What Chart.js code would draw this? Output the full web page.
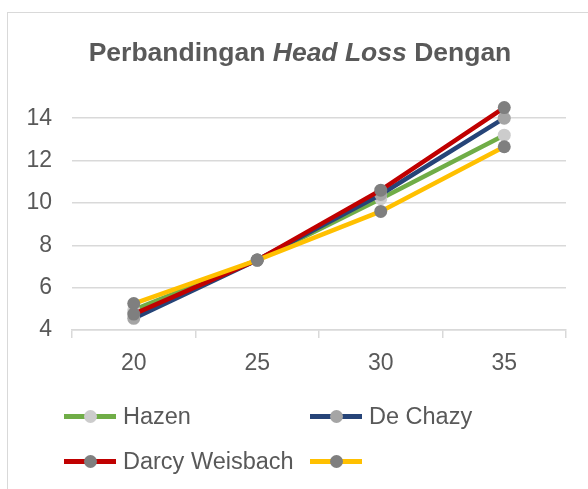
<!DOCTYPE html>
<html>
<head>
<meta charset="utf-8">
<script src="https://cdn.jsdelivr.net/npm/chart.js@4.4.0/dist/chart.umd.min.js"></script>
<style>
  body { margin: 0; background: #fff; font-family: "Liberation Sans", Arial, sans-serif; }
  #wrap { position: relative; width: 588px; height: 489px; overflow: hidden; }
  #frame { position: absolute; left: 7px; top: 12px; width: 700px; height: 600px; border: 1px solid #d9d9d9; }
  #title { position: absolute; left: 0; top: 36px; width: 600px; text-align: center;
           font-weight: bold; font-size: 26.5px; line-height: 32px; color: #595959; }
  #chart { position: absolute; left: 0; top: 0; }
  .item { position: absolute; height: 30px; display: flex; align-items: center;
          font-size: 23.5px; color: #595959; white-space: nowrap; }
  .swatch { position: relative; width: 52px; height: 13px; margin-right: 7px; }
  .swatch .ln { position: absolute; left: 0; right: 0; top: 4px; height: 5px; }
  .swatch .dot { position: absolute; left: 19.5px; top: 0; width: 13px; height: 13px; border-radius: 50%; }
</style>
</head>
<body>
<div id="wrap">
  <div id="frame"></div>
  <canvas id="chart" width="588" height="489"></canvas>
  <div id="title">Perbandingan <i>Head Loss</i> Dengan</div>
  <div id="legend"></div>
</div>
<script>
const labels = ['20', '25', '30', '35'];
const names = ['Hazen', 'De Chazy', 'Darcy Weisbach', ''];
const hazen = [4.95, 7.3, 10.2, 13.2];
const deChazy = [4.55, 7.3, 10.4, 14.0];
const darcy = [4.75, 7.3, 10.6, 14.5];
const keempat = [5.25, 7.3, 9.6, 12.65];
const yTicks = [4, 6, 8, 10, 12, 14];

const lineColors = ['#70ad47', '#264478', '#c00000', '#ffc000'];
const dotColors = ['#cccccc', '#a5a5a5', '#7f7f7f', '#7f7f7f'];
const series = [hazen, deChazy, darcy, keempat];

const datasets = series.map(function (vals, i) {
    return {
        label: names[i],
        data: vals,
        borderColor: lineColors[i],
        backgroundColor: dotColors[i],
        pointBackgroundColor: dotColors[i],
        pointBorderColor: dotColors[i],
        borderWidth: 4.5,
        pointRadius: 6.5,
        pointBorderWidth: 0,
        tension: 0,
        order: 4 - i
    };
});

const grid = '#d9d9d9';

const chart = new Chart(document.getElementById('chart'), {
    type: 'line',
    data: { labels: labels, datasets: datasets },
    options: {
        responsive: false,
        animation: false,
        layout: { padding: { top: 97, right: 22, bottom: 99, left: 0 } },
        plugins: {
            legend: { display: false },
            title: { display: false },
            tooltip: { enabled: false }
        },
        scales: {
            x: {
                offset: true,
                grid: { offset: true, drawOnChartArea: false, color: grid, tickLength: 8, lineWidth: 1.5 },
                border: { color: grid, width: 1.5 },
                ticks: { color: '#595959', font: { family: 'Liberation Sans', size: 23 }, padding: 12 },
                afterFit: function (s) { s.height = 60; }
            },
            y: {
                min: 4,
                max: 15,
                grid: { color: grid, drawTicks: false, lineWidth: 1.5 },
                border: { display: false },
                ticks: { stepSize: 2, color: '#595959', font: { family: 'Liberation Sans', size: 23 }, padding: 20 },
                afterBuildTicks: function (s) {
                    s.ticks = yTicks.map(function (v) { return { value: v }; });
                },
                afterFit: function (s) { s.width = 72; }
            }
        }
    }
});

// legenda dua kolom
const legend = document.getElementById('legend');
const pos = [[64, 416], [310, 416], [64, 461], [310, 461]];
chart.data.datasets.forEach(function (ds, i) {
    const it = document.createElement('div');
    it.className = 'item';
    it.style.left = pos[i][0] + 'px';
    it.style.top = (pos[i][1] - 15) + 'px';
    it.innerHTML = '<span class="swatch"><span class="ln" style="background:' + ds.borderColor +
        '"></span><span class="dot" style="background:' + ds.pointBackgroundColor + '"></span></span>' +
        '<span>' + ds.label + '</span>';
    legend.appendChild(it);
});
</script>
</body>
</html>
